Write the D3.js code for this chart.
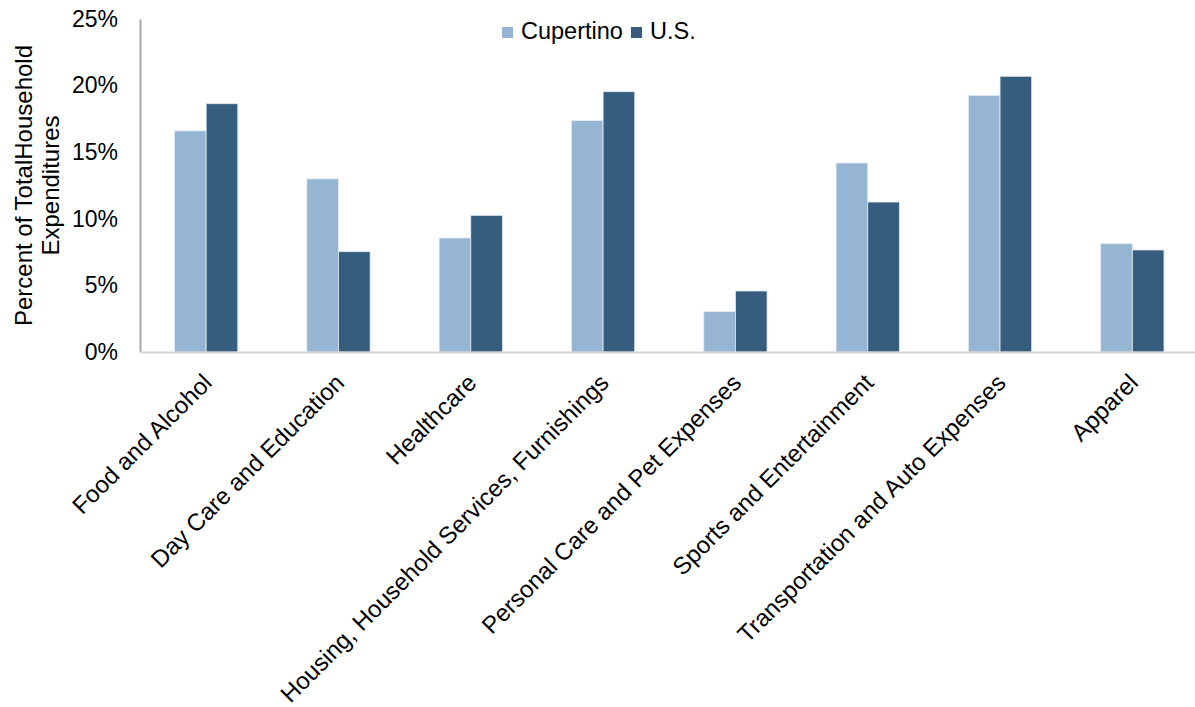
<!DOCTYPE html>
<html>
<head>
<meta charset="utf-8">
<script src="https://cdn.jsdelivr.net/npm/d3@7"></script>
<style>
  html, body { margin: 0; padding: 0; background: #ffffff; }
  svg { display: block; font-family: Arial, "Liberation Sans", sans-serif; }
</style>
</head>
<body>
<svg id="chart" width="1195" height="707"></svg>
<script>
const categories = [
  "Food and Alcohol",
  "Day Care and Education",
  "Healthcare",
  "Housing, Household Services, Furnishings",
  "Personal Care and Pet Expenses",
  "Sports and Entertainment",
  "Transportation and Auto Expenses",
  "Apparel"
];
const seriesNames = ["Cupertino", "U.S."];
const cupertino = [16.6, 13.0, 8.56, 17.37, 3.03, 14.19, 19.27, 8.13];
const us = [18.64, 7.53, 10.26, 19.54, 4.58, 11.26, 20.7, 7.66];
const yTicks = [0, 5, 10, 15, 20, 25];
const yTitle = ["Percent of TotalHousehold", "Expenditures"];
const colors = ["#95b5d3", "#365d7e"];

const svg = d3.select("#chart");
const plot = { left: 140, right: 1198.5, top: 19, bottom: 352 };

const x = d3.scaleBand()
  .domain(categories)
  .range([plot.left, plot.right])
  .paddingInner(0.5216)
  .paddingOuter(0.2608);

const xs = d3.scaleBand()
  .domain(seriesNames)
  .range([0, x.bandwidth()]);

const y = d3.scaleLinear()
  .domain([0, 25])
  .range([plot.bottom, plot.top]);

const seriesData = [cupertino, us];

// bars
seriesNames.forEach((s, si) => {
  svg.append("g")
    .selectAll("rect")
    .data(categories.map((c, i) => ({ c, v: seriesData[si][i] })))
    .join("rect")
    .attr("x", d => x(d.c) + xs(s))
    .attr("y", d => y(d.v))
    .attr("width", xs.bandwidth())
    .attr("height", d => y(0) - y(d.v))
    .attr("fill", colors[si])
    .attr("stroke", "#e3ebf3")
    .attr("stroke-width", 0.8);
});

// y axis
const yAxis = d3.axisLeft(y)
  .tickValues(yTicks)
  .tickSize(0)
  .tickPadding(22)
  .tickFormat(d => d + "%");
const gy = svg.append("g")
  .attr("transform", `translate(${plot.left},0)`)
  .call(yAxis);
gy.select(".domain").attr("stroke", "#a8a8a8").attr("stroke-width", 2);
gy.selectAll("text")
  .attr("font-size", 23)
  .attr("fill", "#000")
  .attr("font-family", "Arial, 'Liberation Sans', sans-serif");

// x axis
const xAxis = d3.axisBottom(x).tickSize(0).tickFormat("");
const gx = svg.append("g")
  .attr("transform", `translate(0,${plot.bottom})`)
  .call(xAxis);
gx.select(".domain").attr("stroke", "#d4d4d4").attr("stroke-width", 2);

// x labels rotated
svg.append("g")
  .selectAll("text")
  .data(categories)
  .join("text")
  .attr("transform", d => `translate(${x(d) + x.bandwidth() / 2 - 5},372) rotate(-45)`)
  .attr("text-anchor", "end")
  .attr("dy", "0.72em")
  .attr("font-size", 24)
  .attr("fill", "#000")
  .text(d => d);

// y title
const yt = svg.append("text")
  .attr("transform", `translate(32,${(plot.top + plot.bottom) / 2}) rotate(-90)`)
  .attr("text-anchor", "middle")
  .attr("font-size", 24)
  .attr("fill", "#000");
yTitle.forEach((t, i) => {
  yt.append("tspan")
    .attr("x", 0)
    .attr("dy", i === 0 ? 0 : 27)
    .text(t);
});

// legend
const legend = svg.append("g").attr("transform", "translate(502,39)");
const legendItems = [
  { name: seriesNames[0], color: colors[0], x: 0, textX: 19 },
  { name: seriesNames[1], color: colors[1], x: 129, textX: 148 }
];
legendItems.forEach(it => {
  legend.append("rect")
    .attr("x", it.x).attr("y", -12)
    .attr("width", 11).attr("height", 11)
    .attr("fill", it.color);
  legend.append("text")
    .attr("x", it.textX).attr("y", 0)
    .attr("font-size", 23.5)
    .attr("fill", "#000")
    .text(it.name);
});
</script>
</body>
</html>
